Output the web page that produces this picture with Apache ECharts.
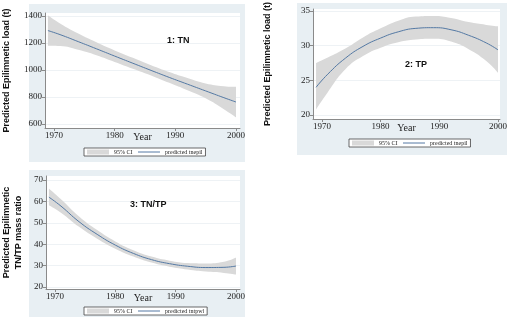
<!DOCTYPE html>
<html>
<head>
<meta charset="utf-8">
<script src="https://cdn.jsdelivr.net/npm/echarts@6/dist/echarts.min.js"></script>
<style>
  html, body { margin: 0; padding: 0; background: #fff; }
  #chart { width: 510px; height: 325px; }
</style>
</head>
<body>
<div id="chart"></div>
<script>
// sample years of the fitted curves
const years = [1969, 1971, 1974, 1977, 1980, 1983, 1986, 1989, 1992, 1995, 1998, 2000]
const yearTicks = [1970, 1980, 1990, 2000]

// 1: TN predicted load (t) and 95% CI
const tnFit = [1292, 1262, 1210, 1157, 1103, 1050, 997, 945, 895, 845, 795, 763]
const tnUpper = [1405, 1345, 1270, 1205, 1145, 1090, 1035, 985, 940, 900, 880, 875]
const tnLower = [1180, 1178, 1150, 1110, 1060, 1010, 960, 905, 850, 790, 710, 650]
const tnTicks = [600, 800, 1000, 1200, 1400]

// 2: TP predicted load (t) and 95% CI
const tpFit = [24.0, 25.9, 28.2, 29.9, 31.1, 32.0, 32.5, 32.6, 32.3, 31.5, 30.4, 29.4]
const tpUpper = [27.5, 28.3, 29.6, 31.2, 32.5, 33.6, 34.2, 34.3, 34.0, 33.4, 33.0, 32.8]
const tpLower = [20.8, 23.3, 26.6, 28.5, 29.7, 30.5, 30.9, 31.0, 30.6, 29.5, 27.8, 26.1]
const tpTicks = [20, 25, 30, 35]

// 3: TN/TP mass ratio and 95% CI
const ratioFit = [62.0, 57.8, 50.5, 44.6, 39.6, 35.7, 32.8, 30.9, 29.7, 29.1, 29.2, 29.8]
const ratioUpper = [66.0, 61.0, 53.0, 46.6, 41.3, 37.2, 34.2, 32.3, 31.2, 31.0, 31.8, 33.8]
const ratioLower = [58.2, 54.7, 48.1, 42.6, 37.9, 34.2, 31.4, 29.5, 28.2, 27.2, 26.6, 25.8]
const ratioTicks = [20, 30, 40, 50, 60, 70]

const SERIF = 'Liberation Serif'
const SANS = 'Liberation Sans'
const PANEL_BG = '#e8eff3'
const BAND = '#d9d9d9'
const LINE = '#5479a4'
const AXIS = '#8a8a8a'

// rows are [value, year] so the stack runs on the value dimension (encode maps them back)
const rows = (vals) => years.map((y, i) => [vals[i], y])
const diffRows = (up, lo) => years.map((y, i) => [+(up[i] - lo[i]).toFixed(2), y])
const plain = (v) => String(v)

function xAxis(gridIndex, min, max) {
  return {
    type: 'value', gridIndex, min, max,
    name: 'Year', nameLocation: 'middle', nameGap: 4, nameMoveOverlap: false,
    nameTextStyle: { fontFamily: SERIF, fontSize: 10, color: '#222' },
    axisLine: { show: true, lineStyle: { color: AXIS, width: 1 } },
    axisTick: { show: true, length: 3, customValues: yearTicks, lineStyle: { color: AXIS } },
    axisLabel: { customValues: yearTicks, formatter: plain, fontFamily: SERIF, fontSize: 9, color: '#222', margin: 3 },
    splitLine: { show: false }
  }
}

function yAxis(gridIndex, min, max, step, ticks, name, gap) {
  return {
    type: 'value', gridIndex, min, max, minInterval: step, maxInterval: step,
    name, nameLocation: 'middle', nameGap: gap, nameRotate: 90,
    nameTextStyle: { fontFamily: SANS, fontWeight: 'bold', fontSize: 9, color: '#111', lineHeight: 12 },
    axisLine: { show: true, lineStyle: { color: AXIS, width: 1 } },
    axisTick: { show: true, length: 3, customValues: ticks, lineStyle: { color: AXIS } },
    axisLabel: { customValues: ticks, formatter: plain, fontFamily: SERIF, fontSize: 9, color: '#222', margin: 3 },
    splitLine: { show: true, lineStyle: { color: '#eef2f5', width: 1 } }
  }
}

function panelSeries(idx, fit, up, lo, fitName) {
  const stack = 'ci' + idx
  const encode = { x: 1, y: 0 }
  return [
    {
      name: 'lower' + idx, type: 'line', xAxisIndex: idx, yAxisIndex: idx,
      data: rows(lo), encode, stack, smooth: true, symbol: 'none',
      lineStyle: { opacity: 0 }, silent: true, z: 2
    },
    {
      name: '95% CI', type: 'line', xAxisIndex: idx, yAxisIndex: idx,
      data: diffRows(up, lo), encode, stack, smooth: true, symbol: 'none',
      lineStyle: { opacity: 0 }, itemStyle: { color: BAND },
      areaStyle: { color: BAND, opacity: 1 }, z: 2
    },
    {
      name: fitName, type: 'line', xAxisIndex: idx, yAxisIndex: idx,
      data: rows(fit), encode, smooth: true, symbol: 'none',
      itemStyle: { color: LINE }, lineStyle: { color: LINE, width: 1 }, z: 3
    }
  ]
}

function legend(left, top, fitName) {
  return {
    left, top, orient: 'horizontal',
    data: [
      { name: '95% CI', icon: 'rect' },
      { name: fitName, itemStyle: { opacity: 0 }, lineStyle: { width: 1, color: LINE } }
    ],
    itemWidth: 22, itemHeight: 5, itemGap: 5,
    padding: [1, 3], backgroundColor: '#fff',
    borderColor: '#444', borderWidth: 0.8, borderRadius: 0,
    textStyle: { fontFamily: SERIF, fontSize: 6, color: '#222' },
    selectedMode: false
  }
}

const titleStyle = { fontFamily: SANS, fontWeight: 'bold', fontSize: 9, color: '#111' }

const chart = echarts.init(document.getElementById('chart'))
chart.setOption({
  animation: false,
  backgroundColor: '#fff',
  graphic: [
    { type: 'rect', shape: { x: 29, y: 4, width: 216, height: 158 }, style: { fill: PANEL_BG }, z: -10, silent: true },
    { type: 'rect', shape: { x: 297, y: 3, width: 210, height: 152 }, style: { fill: PANEL_BG }, z: -10, silent: true },
    { type: 'rect', shape: { x: 29, y: 170, width: 216, height: 147 }, style: { fill: PANEL_BG }, z: -10, silent: true }
  ],
  title: [
    { text: '1: TN', left: 167, top: 36, padding: 0, textStyle: titleStyle },
    { text: '2: TP', left: 405, top: 60, padding: 0, textStyle: titleStyle },
    { text: '3: TN/TP', left: 130, top: 200, padding: 0, textStyle: titleStyle }
  ],
  legend: [
    legend(84, 148, 'predicted tnepil'),
    legend(349, 139, 'predicted tnepil'),
    legend(84, 307, 'predicted tntpwl')
  ],
  grid: [
    { left: 45, top: 13, width: 195, height: 115, show: true, backgroundColor: '#fff', borderWidth: 0 },
    { left: 313, top: 8, width: 189, height: 111, show: true, backgroundColor: '#fff', borderWidth: 0 },
    { left: 45, top: 176, width: 195, height: 113, show: true, backgroundColor: '#fff', borderWidth: 0 }
  ],
  xAxis: [
    xAxis(0, 1968.52, 2000.66),
    xAxis(1, 1968.48, 2000.34),
    xAxis(2, 1968.52, 2000.66)
  ],
  yAxis: [
    yAxis(0, 570.4, 1422, 200, tnTicks, 'Predicted Epilimnetic load (t)', 32),
    yAxis(1, 19.43, 35.29, 5, tpTicks, 'Predicted Epilimnetic load (t)', 39),
    yAxis(2, 19.07, 71.87, 10, ratioTicks, 'Predicted Epilimnetic\nTN/TP mass ratio', 21)
  ],
  series: [
    ...panelSeries(0, tnFit, tnUpper, tnLower, 'predicted tnepil'),
    ...panelSeries(1, tpFit, tpUpper, tpLower, 'predicted tnepil'),
    ...panelSeries(2, ratioFit, ratioUpper, ratioLower, 'predicted tntpwl')
  ]
})
</script>
</body>
</html>
